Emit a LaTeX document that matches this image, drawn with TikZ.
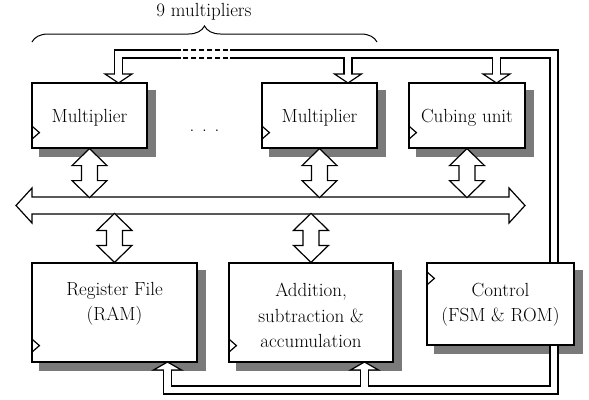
\documentclass[tikz,border=0pt]{standalone}
\usepackage{fontspec}
\usetikzlibrary{decorations.pathreplacing,backgrounds}
\tikzset{
  lw/.style={line width=1.2pt},
  box/.style={draw, line width=1.2pt, fill=white, inner sep=0pt},
  shadowbox/.style={fill=black!52, draw=none},
  arr/.style={draw, line width=1.2pt, fill=white, line join=miter},
  chanblack/.style={draw=black, line width=9.2pt, line join=miter},
  chanwhite/.style={draw=white, line width=6.8pt, line join=miter},
  lbl/.style={font=\fontsize{19}{25.5}\selectfont, align=center, inner sep=0pt},
}
\newcommand\shadowof[1]{\fill[shadowbox] ([shift={(8,8)}]#1.south west) rectangle ([shift={(8,8)}]#1.north east);}
% double-headed vertical arrow, starting at a node anchor, going down / up
\newcommand\dnarr[1]{\draw[arr] (#1) -- ++(17.5,17) -- ++(-9.5,0) -- ++(0,15) -- ++(9.5,0) -- ++(-17.5,17) -- ++(-17.5,-17) -- ++(9.5,0) -- ++(0,-15) -- ++(-9.5,0) -- cycle;}
\newcommand\uparr[1]{\draw[arr] (#1) -- ++(17.5,-17) -- ++(-9.5,0) -- ++(0,-15) -- ++(9.5,0) -- ++(-17.5,-17) -- ++(-17.5,17) -- ++(9.5,0) -- ++(0,15) -- ++(-9.5,0) -- cycle;}
\begin{document}
\begin{tikzpicture}[x=1pt,y=-1pt]
\useasboundingbox (0,0) rectangle (589,399);

% boxes
\node[box, minimum width=115pt, minimum height=65pt] (m1) at (89.5,115.5) {};
\node[box, minimum width=115pt, minimum height=65pt] (m2) at (319.5,115.5) {};
\node[box, minimum width=116pt, minimum height=65pt] (cu) at (467,115.5) {};
\node[box, minimum width=165pt, minimum height=99pt] (rf) at (114.5,312.5) {};
\node[box, minimum width=164pt, minimum height=99pt] (ad) at (311,312.5) {};
\node[box, minimum width=147pt, minimum height=82pt] (ct) at (500.5,304) {};

\begin{scope}[on background layer]
  \shadowof{m1}\shadowof{m2}\shadowof{cu}\shadowof{rf}\shadowof{ad}\shadowof{ct}
\end{scope}

% texts
\node[lbl] (tm1) at (89.5,118) {Multiplier};
\node[lbl] (tm2) at (319.5,118) {Multiplier};
\node[lbl] (tcu) at (467,118) {Cubing unit};
\node[lbl] (trf) at (114.5,304) {Register File\\(RAM)};
\node[lbl] (tad) at (311,315.5) {Addition,\\subtraction \&\\accumulation};
\node[lbl] (tct) at (500.5,304.5) {Control\\(FSM \& ROM)};
\node[lbl] (dots) at (204.5,131) {.\hskip7.8pt.\hskip7.8pt.};
\node[lbl] (nine) at (204,12) {9 multipliers};

% brace
\draw[line width=1pt, decorate, decoration={brace, amplitude=16pt}] (32,42) -- (377,42);

% clock marks
\draw[lw] ([yshift=23pt]m1.south west) -- ++(8,7) -- ++(-8,7);
\draw[lw] ([yshift=23pt]m2.south west) -- ++(8,7) -- ++(-8,7);
\draw[lw] ([yshift=23pt]cu.south west) -- ++(8,7) -- ++(-8,7);
\draw[lw] ([yshift=24pt]rf.south west) -- ++(8,7) -- ++(-8,7);
\draw[lw] ([yshift=24pt]ad.south west) -- ++(8,7) -- ++(-8,7);
\draw[lw] ([yshift=-9pt]ct.north west) -- ++(8,7) -- ++(-8,7);

% data bus
\draw[arr] (16,205.5) -- (32,188) -- (32,197) -- (509,197) -- (509,188) -- (525,205.5)
  -- (509,223) -- (509,214) -- (32,214) -- (32,223) -- cycle;
\coordinate (busL) at (16,205.5);
\coordinate (busR) at (525,205.5);

% arrows between units and bus
\dnarr{m1.south}
\dnarr{m2.south}
\dnarr{cu.south}
\uparr{rf.north}
\uparr{ad.north}

% control channels (outline)
\coordinate (cTop) at (554,262.4);
\coordinate (cBot) at (554,345.6);
\draw[chanblack] (cTop) -- (554,54) -- (118.5,54) -- (118.5,74);
\draw[chanblack] (348,54) -- (348,74);
\draw[chanblack] (496.5,54) -- (496.5,74);
\draw[chanblack] (cBot) -- (554,390) -- (167.5,390) -- (167.5,370);
\draw[chanblack] (364.5,390) -- (364.5,370);

% arrow heads
\draw[arr] (105,74) -- (132,74) -- (118.5,83) -- cycle;
\draw[arr] (334.5,74) -- (361.5,74) -- (348,83) -- cycle;
\draw[arr] (483,74) -- (510,74) -- (496.5,83) -- cycle;
\draw[arr] (153.5,370) -- (181.5,370) -- (167.5,362) -- cycle;
\draw[arr] (350.5,370) -- (378.5,370) -- (364.5,362) -- cycle;

% channel interiors
\draw[chanwhite] (cTop) -- (554,54) -- (118.5,54) -- (118.5,75.6);
\draw[chanwhite] (348,54) -- (348,75.6);
\draw[chanwhite] (496.5,54) -- (496.5,75.6);
\draw[chanwhite] (cBot) -- (554,390) -- (167.5,390) -- (167.5,368.4);
\draw[chanwhite] (364.5,390) -- (364.5,368.4);

% dashed gap in top channel
\fill[white] (181,47) rectangle (230,61);
\draw[lw, dash pattern=on 5pt off 3pt] (183,50) -- (230,50);
\draw[lw, dash pattern=on 5pt off 3pt] (183,58) -- (230,58);
\end{tikzpicture}
\end{document}
